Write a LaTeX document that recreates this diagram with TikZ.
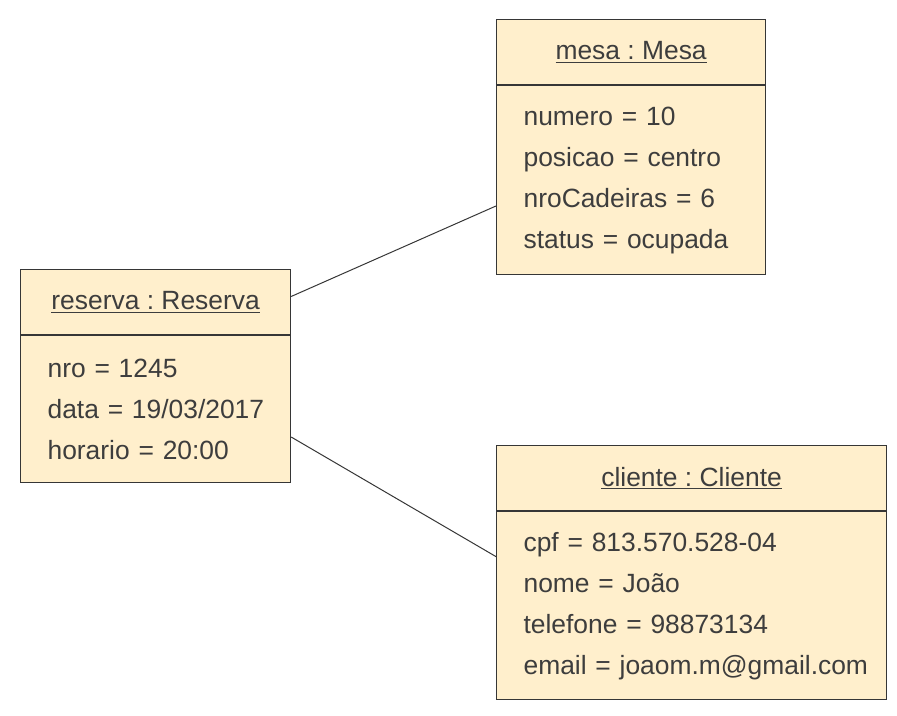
\documentclass[tikz,border=0pt]{standalone}
\usepackage{fontspec}
\setmainfont{Liberation Sans}
\usetikzlibrary{positioning,calc}
\definecolor{objFill}{HTML}{FFEFCC}
\definecolor{objLine}{HTML}{363636}
\definecolor{objText}{HTML}{3D3D3D}
\frenchspacing
\newcommand{\objfont}{\fontsize{19.8}{30.75}\selectfont}
\newcommand{\attr}[2]{\mbox{#1 = #2}}
\tikzset{
  objhead/.style={draw=objLine, fill=objFill, line width=0.9pt, text=objText,
    minimum height=48.75pt, inner sep=0pt, anchor=north west, font=\objfont},
  objbody/.style={draw=objLine, fill=objFill, line width=0.9pt, text=objText,
    inner xsep=20.25pt, inner ysep=0pt, align=left, font=\objfont},
  assoc/.style={draw=objLine, line width=0.75pt}
}

\begin{document}
\begin{tikzpicture}[x=0.75pt,y=-0.75pt]
  \useasboundingbox (0,0) rectangle (897,715);
  % reserva object
  \node[objhead, minimum width=202.5pt] (reservaHd) at (20,269) {\underline{reserva : Reserva}};
  \node[objbody, text width=162pt, minimum height=110.25pt, below=0pt of reservaHd] (reservaBd)
    {\attr{nro}{1245}\\ \attr{data}{19/03/2017}\\ \attr{horario}{20:00}};
  % mesa object
  \node[objhead, minimum width=201.75pt] (mesaHd) at (496,19) {\underline{mesa : Mesa}};
  \node[objbody, text width=161.25pt, minimum height=141.75pt, below=0pt of mesaHd] (mesaBd)
    {\attr{numero}{10}\\ \attr{posicao}{centro}\\ \attr{nroCadeiras}{6}\\ \attr{status}{ocupada}};
  % cliente object
  \node[objhead, minimum width=292.5pt] (clienteHd) at (496,445) {\underline{cliente : Cliente}};
  \node[objbody, text width=252pt, minimum height=141pt, below=0pt of clienteHd] (clienteBd)
    {\attr{cpf}{813.570.528-04}\\ \attr{nome}{João}\\ \attr{telefone}{98873134}\\ \attr{email}{joaom.m@gmail.com}};
  % links
  \draw[assoc] ($(reservaHd.north east)!0.415!(reservaHd.south east)$)
    -- ($(mesaBd.north west)!0.635!(mesaBd.south west)$);
  \draw[assoc] ($(reservaBd.north east)!0.687!(reservaBd.south east)$)
    -- ($(clienteBd.north west)!0.24!(clienteBd.south west)$);
\end{tikzpicture}
\end{document}
